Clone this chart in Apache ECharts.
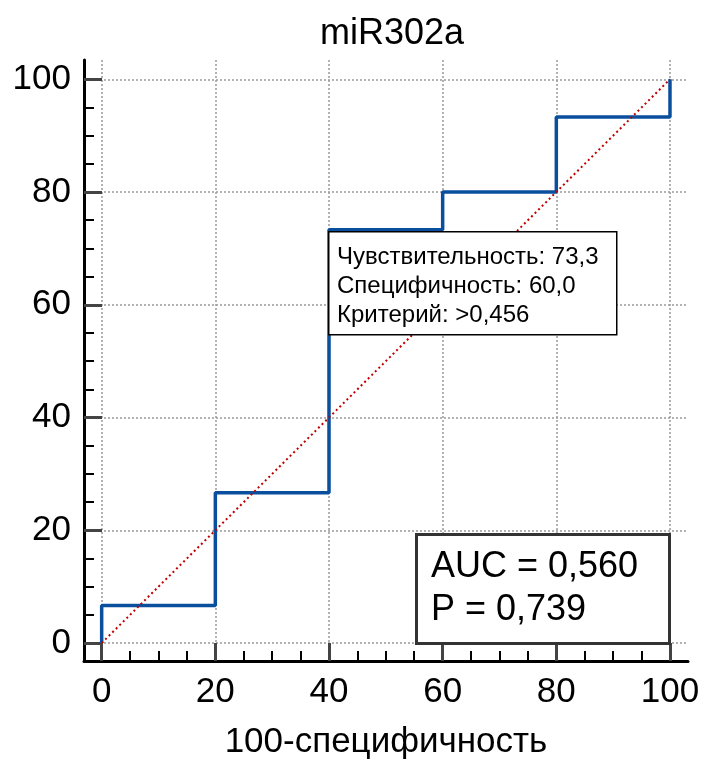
<!DOCTYPE html>
<html>
<head>
<meta charset="utf-8">
<script src="https://cdn.jsdelivr.net/npm/echarts@6/dist/echarts.min.js"></script>
<style>html,body{margin:0;padding:0;background:#fff}#c{width:705px;height:767px}</style>
</head>
<body>
<div id="c"></div>
<script>
// ROC curve vertices (100-specificity, sensitivity)
var rocX = [0, 0, 20, 20, 40, 40, 60, 60, 80, 80, 100, 100];
var rocY = [0, 6.67, 6.67, 26.67, 26.67, 73.33, 73.33, 80, 80, 93.33, 93.33, 100];
var diagX = [0, 100];
var diagY = [0, 100];
var majorTicks = [0, 20, 40, 60, 80, 100];
var minorTicks = [5, 10, 15, 25, 30, 35, 45, 50, 55, 65, 70, 75, 85, 90, 95];
var titleText = 'miR302a';
var xName = '100-специфичность';
var infoLines = ['Чувствительность: 73,3', 'Специфичность: 60,0', 'Критерий: >0,456'];
var statLines = ['AUC = 0,560', 'P = 0,739'];

var FONT = '"Liberation Sans", Arial, sans-serif';
var chart = echarts.init(document.getElementById('c'), null, {renderer: 'canvas'});

function zip(a, b) { return a.map(function (v, i) { return [v, b[i]]; }); }

var xMin = -3.11, xMax = 103.17, yMin = -3.19, yMax = 103.42;

function mainAxis(min, max, isX) {
  var ax = {
    type: 'value', min: min, max: max, gridIndex: 0,
    position: isX ? 'bottom' : 'left',
    axisLine: {show: true, onZero: false, lineStyle: {color: '#000', width: 3}},
    axisTick: {show: true, inside: true, length: 18, customValues: majorTicks,
      lineStyle: {color: '#444', width: 3}},
    axisLabel: {show: true, customValues: majorTicks, color: '#000', fontSize: 35,
      fontFamily: FONT, margin: isX ? 14 : 13},
    splitLine: {show: true, lineStyle: {color: '#9a9a9a', width: 1.5, type: [2, 2]}},
    minorTick: {show: false}
  };
  if (isX) {
    ax.name = xName; ax.nameLocation = 'middle'; ax.nameGap = 64;
    ax.nameTextStyle = {color: '#000', fontSize: 35, fontFamily: FONT};
  }
  return ax;
}
function minorAxis(min, max, isX) {
  return {
    type: 'value', min: min, max: max, gridIndex: 0,
    position: isX ? 'bottom' : 'left',
    axisLine: {show: false, onZero: false},
    axisTick: {show: true, inside: true, length: 10, customValues: minorTicks,
      lineStyle: {color: '#000', width: 2}},
    axisLabel: {show: false},
    splitLine: {show: false}
  };
}

var option = {
  backgroundColor: '#fff',
  animation: false,
  title: {text: titleText, left: 387, top: 11, textAlign: 'center',
    textStyle: {color: '#000', fontSize: 36, fontWeight: 'normal', fontFamily: FONT}},
  grid: {left: 84, right: 17, top: 60, bottom: 106, containLabel: false},
  xAxis: [mainAxis(xMin, xMax, true), minorAxis(xMin, xMax, true)],
  yAxis: [mainAxis(yMin, yMax, false), minorAxis(yMin, yMax, false)],
  series: [
    {type: 'line', xAxisIndex: 0, yAxisIndex: 0, data: zip(rocX, rocY), showSymbol: false,
      symbol: 'none', z: 3, lineStyle: {color: '#0a4f9e', width: 3.5}},
    {type: 'line', xAxisIndex: 0, yAxisIndex: 0, data: zip(diagX, diagY), showSymbol: false,
      symbol: 'none', z: 4, lineStyle: {color: '#c00000', width: 2, type: [2, 3]}}
  ],
  graphic: [
    {type: 'rect', left: 328, top: 231, z: 100, shape: {x: 0, y: 0, width: 288, height: 103},
      style: {fill: '#fff', stroke: '#000', lineWidth: 1.5}},
    {type: 'text', left: 337, top: 243, z: 101, style: {text: infoLines.join('\n'), fill: '#000',
      font: '24px ' + FONT, lineHeight: 29}},
    {type: 'rect', left: 415, top: 533, z: 100, shape: {x: 0, y: 0, width: 253, height: 109},
      style: {fill: '#fff', stroke: '#333', lineWidth: 3}},
    {type: 'text', left: 431, top: 546, z: 101, style: {text: statLines.join('\n'), fill: '#000',
      font: '36px ' + FONT, lineHeight: 43}}
  ]
};
chart.setOption(option);
</script>
</body>
</html>
